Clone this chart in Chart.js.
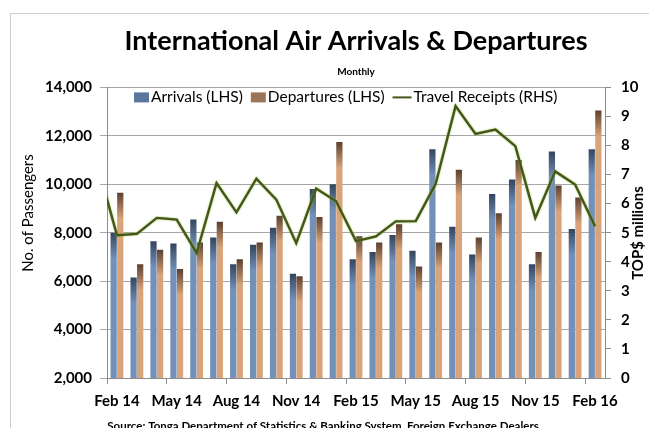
<!DOCTYPE html>
<html>
<head>
<meta charset="utf-8">
<script src="https://cdn.jsdelivr.net/npm/chart.js@4.4.0/dist/chart.umd.min.js"></script>
<style>
  html, body { margin: 0; padding: 0; background: #fff; }
  #wrap { width: 649px; height: 428px; }
</style>
</head>
<body>
<div id="wrap"><canvas id="myChart"></canvas></div>
<script>
// months (Jan 14 only feeds the start of the receipts line, it sits left of the axis)
const months = ['Jan 14','Feb 14','Mar 14','Apr 14','May 14','Jun 14','Jul 14','Aug 14','Sep 14','Oct 14','Nov 14','Dec 14',
                'Jan 15','Feb 15','Mar 15','Apr 15','May 15','Jun 15','Jul 15','Aug 15','Sep 15','Oct 15','Nov 15','Dec 15',
                'Jan 16','Feb 16'];
const arrivals = [null, 8000, 6150, 7650, 7550, 8550, 7800, 6700, 7500, 8200, 6300, 9800,
                  10000, 6900, 7200, 7900, 7250, 11450, 8250, 7100, 9600, 10200, 6700, 11350,
                  8150, 11450];
const departures = [null, 9650, 6700, 7300, 6500, 7600, 8450, 6900, 7600, 8700, 6200, 8650,
                    11750, 7850, 7600, 8350, 6600, 7600, 10600, 7800, 8800, 11000, 7200, 9950,
                    9450, 13050];
const receipts = [7.4, 4.91, 4.96, 5.51, 5.45, 4.30, 6.71, 5.70, 6.86, 6.14, 4.64, 6.52,
                  6.08, 4.71, 4.87, 5.39, 5.40, 6.68, 9.36, 8.40, 8.55, 7.98, 5.51, 7.11,
                  6.66, 5.22];

Chart.defaults.font.family = 'Lato, "Open Sans", sans-serif';
Chart.defaults.color = '#000';

// darker top on each bar, like the Excel preset shading
function barFill(base, dark) {
    return function (context) {
        const chart = context.chart;
        if (!chart.chartArea || context.type !== 'data' || !context.parsed) return base;
        const v = context.parsed.y;
        if (v == null || isNaN(v)) return base;
        const top = chart.scales.y.getPixelForValue(v);
        const g = chart.ctx.createLinearGradient(0, top, 0, top + 26);
        g.addColorStop(0, dark);
        g.addColorStop(1, base);
        return g;
    };
}

const lineGlow = {
    id: 'lineGlow',
    beforeDatasetDraw(chart, args) {
        if (args.meta.type !== 'line') return;
        chart.ctx.save();
        chart.ctx.shadowColor = 'rgba(150,190,60,0.9)';
        chart.ctx.shadowBlur = 2;
    },
    afterDatasetDraw(chart, args) {
        if (args.meta.type !== 'line') return;
        chart.ctx.restore();
    }
};

// one-row legend sitting inside the top of the plot, as in the Excel chart
function drawLegend(chart) {
    const ctx = chart.ctx;
    const y = chart.chartArea.top + 10;
    let x = 134;
    ctx.save();
    ctx.font = '15.5px Lato';
    ctx.textBaseline = 'middle';
    ctx.textAlign = 'left';
    chart.data.datasets.forEach((ds) => {
        if (ds.type === 'line') {
            ctx.strokeStyle = ds.legendColor;
            ctx.lineWidth = 2;
            ctx.beginPath();
            ctx.moveTo(x, y);
            ctx.lineTo(x + 19, y);
            ctx.stroke();
            x += 21;
        } else {
            ctx.fillStyle = ds.legendColor;
            ctx.fillRect(x, y - 5, 15, 10);
            x += 17;
        }
        ctx.fillStyle = '#000';
        ctx.fillText(ds.label, x, y);
        x += ctx.measureText(ds.label).width + 8;
    });
    ctx.restore();
}

const decor = {
    id: 'decor',
    beforeDraw(chart) {
        const ctx = chart.ctx;
        ctx.save();
        ctx.fillStyle = '#fff';
        ctx.fillRect(0, 0, chart.width, chart.height);
        ctx.restore();
    },
    afterDraw(chart) {
        const ctx = chart.ctx;
        drawLegend(chart);
        ctx.save();
        ctx.strokeStyle = '#cfcfcf';
        ctx.lineWidth = 1;
        ctx.strokeRect(10.5, 13.5, 700, 500);

        ctx.fillStyle = '#000';
        ctx.textAlign = 'center';
        ctx.textBaseline = 'middle';

        ctx.save();
        ctx.translate(28, 213);
        ctx.rotate(-Math.PI / 2);
        ctx.font = '15px Lato';
        ctx.fillText('No. of Passengers', 0, 0);
        ctx.restore();

        ctx.save();
        ctx.translate(638, 233);
        ctx.rotate(-Math.PI / 2);
        ctx.font = 'bold 15px Lato';
        ctx.fillText('TOP$ millions', 0, 0);
        ctx.restore();

        ctx.textBaseline = 'alphabetic';
        ctx.font = 'bold 11.5px Lato';
        ctx.fillText('Source: Tonga Department of Statistics & Banking System, Foreign Exchange Dealers', 323, 430);
        ctx.restore();
    }
};

const data = {
    labels: months,
    datasets: [
        {
            label: 'Arrivals (LHS)',
            data: arrivals,
            backgroundColor: barFill('#7390b8', '#33455e'),
            legendColor: '#5a769c',
            categoryPercentage: 0.66,
            barPercentage: 0.95,
            yAxisID: 'y',
        },
        {
            label: 'Departures (LHS)',
            data: departures,
            backgroundColor: barFill('#d9a47a', '#5c4030'),
            legendColor: '#9b7556',
            categoryPercentage: 0.66,
            barPercentage: 0.95,
            yAxisID: 'y',
        },
        {
            type: 'line',
            label: 'Travel Receipts (RHS)',
            data: receipts,
            borderColor: '#44561c',
            legendColor: '#44561c',
            borderWidth: 2.4,
            pointRadius: 0,
            tension: 0,
            yAxisID: 'y1',
            order: -1,
        },
    ]
};

const config = {
    type: 'bar',
    data: data,
    options: {
        responsive: true,
        maintainAspectRatio: false,
        animation: false,
        layout: { padding: 0 },
        plugins: {
            title: {
                display: true,
                fullSize: false,
                text: 'International Air Arrivals & Departures',
                font: { size: 27, weight: 'bold' },
                color: '#000',
                padding: { top: 25, bottom: 8 },
            },
            subtitle: {
                display: true,
                fullSize: false,
                text: 'Monthly',
                font: { size: 10, weight: 'bold' },
                color: '#000',
                padding: { top: 0, bottom: 10 },
            },
            legend: { display: false },
            tooltip: { enabled: false },
        },
        scales: {
            x: {
                type: 'category',
                min: 'Feb 14',
                offset: true,
                grid: {
                    offset: true,
                    drawOnChartArea: false,
                    drawTicks: true,
                    tickLength: 6,
                    color: (c) => (c.index % 3 === 0 ? '#8c8c8c' : 'rgba(0,0,0,0)'),
                },
                border: { color: '#8c8c8c' },
                ticks: {
                    autoSkip: false,
                    maxRotation: 0,
                    padding: 8,
                    font: { size: 15, weight: 'bold' },
                    callback: function (value, index) {
                        return index % 3 === 0 ? this.getLabelForValue(value) : '';
                    },
                },
                afterFit: (s) => { s.height = 50; },
            },
            y: {
                position: 'left',
                min: 2000,
                max: 14000,
                ticks: {
                    stepSize: 2000,
                    padding: 8,
                    font: { size: 15, weight: 'bold' },
                    callback: (v) => v.toLocaleString('en-US'),
                },
                grid: { color: '#a6a6a6', tickLength: 7 },
                border: { color: '#8c8c8c' },
                afterFit: (s) => { s.width = 107; },
            },
            y1: {
                position: 'right',
                min: 0,
                max: 10,
                ticks: {
                    stepSize: 1,
                    padding: 10,
                    font: { size: 15, weight: 'bold' },
                },
                grid: { drawOnChartArea: false, tickLength: 6, color: '#8c8c8c' },
                border: { color: '#8c8c8c' },
                afterFit: (s) => { s.width = 44; },
            },
        },
    },
    plugins: [decor, lineGlow],
};

const myChart = new Chart(document.getElementById('myChart'), config);
</script>
</body>
</html>
